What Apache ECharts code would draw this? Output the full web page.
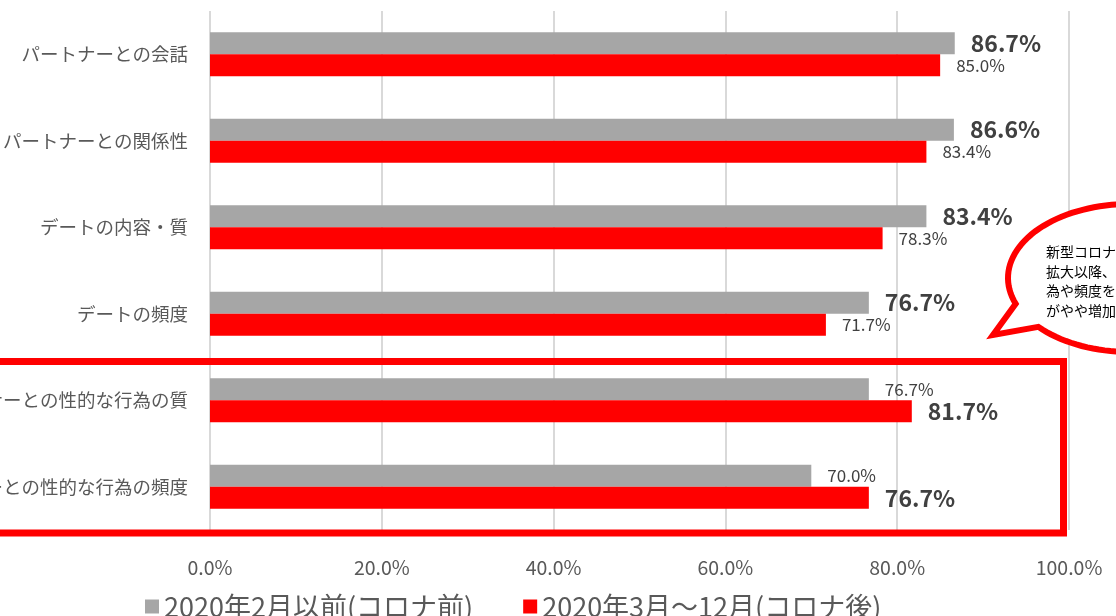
<!DOCTYPE html>
<html>
<head>
<meta charset="utf-8">
<script src="https://cdn.jsdelivr.net/npm/echarts@6/dist/echarts.min.js"></script>
<style>html,body{margin:0;padding:0;background:#fff}#c{width:1116px;height:616px}</style>
</head>
<body>
<div id="c"></div>
<script>
const categories = ['パートナーとの会話','パートナーとの関係性','デートの内容・質','デートの頻度','パートナーとの性的な行為の質','パートナーとの性的な行為の頻度'];
const seriesNames = ['2020年2月以前(コロナ前)','2020年3月～12月(コロナ後)'];
const beforeValues = [86.7, 86.6, 83.4, 76.7, 76.7, 70.0];
const afterValues = [85.0, 83.4, 78.3, 71.7, 81.7, 76.7];
const xTicks = [0, 20, 40, 60, 80, 100];
const bubbleLines = ['新型コロナウ','拡大以降、','為や頻度を','がやや増加'];

const FONT = '"Noto Sans CJK JP", "Noto Sans", sans-serif';
const all = [beforeValues, afterValues];

function labelFmt(si) {
  return function (p) {
    const v = all[si][p.dataIndex];
    const o = all[1 - si][p.dataIndex];
    const txt = v.toFixed(1) + '%';
    return v > o ? '{b|' + txt + '}' : '{n|' + txt + '}';
  };
}
const rich = {
  b: {fontSize: 23, fontWeight: 'bold', color: '#404040', fontFamily: FONT},
  n: {fontSize: 17, color: '#404040', fontFamily: FONT}
};

// speech bubble outline (ellipse arc + tail)
function bubblePoints() {
  const cx = 1130, cy = 278, rx = 122, ry = 74;
  const start = Math.atan2((304 - cy) / ry, (1015 - cx) / rx);
  let e = Math.atan2((327 - cy) / ry, (1038 - cx) / rx);
  while (e <= start) e += Math.PI * 2;
  const pts = [];
  const n = 120;
  for (let i = 0; i <= n; i++) {
    const t = start + (e - start) * i / n;
    pts.push([cx + rx * Math.cos(t), cy + ry * Math.sin(t)]);
  }
  pts.push([993, 335]);
  return pts;
}

const chart = echarts.init(document.getElementById('c'));
chart.setOption({
  animation: false,
  backgroundColor: '#fff',
  textStyle: {fontFamily: FONT},
  grid: {left: 210, right: 47, top: 11, bottom: 86, containLabel: false, outerBoundsMode: 'none'},
  legend: {
    data: seriesNames,
    left: 140, top: 588,
    icon: 'rect', itemWidth: 14, itemHeight: 14, itemGap: 50,
    textStyle: {fontSize: 27, color: '#595959', fontFamily: FONT}
  },
  xAxis: {
    type: 'value', min: xTicks[0], max: xTicks[xTicks.length - 1], interval: xTicks[1] - xTicks[0],
    axisLine: {show: false}, axisTick: {show: false},
    axisLabel: {formatter: v => v.toFixed(1) + '%', fontSize: 19.5, color: '#595959', margin: 28, fontFamily: FONT},
    splitLine: {show: true, lineStyle: {color: '#D9D9D9', width: 2}}
  },
  yAxis: {
    type: 'category', data: categories, inverse: true,
    axisLine: {show: false}, axisTick: {show: false},
    axisLabel: {fontSize: 18.5, color: '#595959', margin: 22, fontFamily: FONT},
    splitLine: {show: false}
  },
  series: [
    {
      name: seriesNames[0], type: 'bar', data: beforeValues,
      itemStyle: {color: '#A6A6A6'}, barGap: '0%', barCategoryGap: '49%',
      label: {show: true, position: 'right', distance: 16, formatter: labelFmt(0), rich: rich}
    },
    {
      name: seriesNames[1], type: 'bar', data: afterValues,
      itemStyle: {color: '#FF0000'}, barGap: '0%', barCategoryGap: '49%',
      label: {show: true, position: 'right', distance: 16, formatter: labelFmt(1), rich: rich}
    }
  ],
  graphic: [
    {
      type: 'rect', z: 100,
      shape: {x: -10, y: 361.5, width: 1073.5, height: 171.5},
      style: {fill: 'none', stroke: '#FF0000', lineWidth: 7}
    },
    {
      type: 'polygon', z: 100,
      shape: {points: bubblePoints()},
      style: {fill: '#fff', stroke: '#FF0000', lineWidth: 6, lineJoin: 'miter'}
    },
    ...bubbleLines.map((t, i) => ({
      type: 'text', z: 101,
      x: 1046, y: 252 + i * 19.5,
      style: {text: t, fontSize: 14, fill: '#000', fontFamily: FONT, verticalAlign: 'middle', align: 'left'}
    }))
  ]
});
</script>
</body>
</html>
